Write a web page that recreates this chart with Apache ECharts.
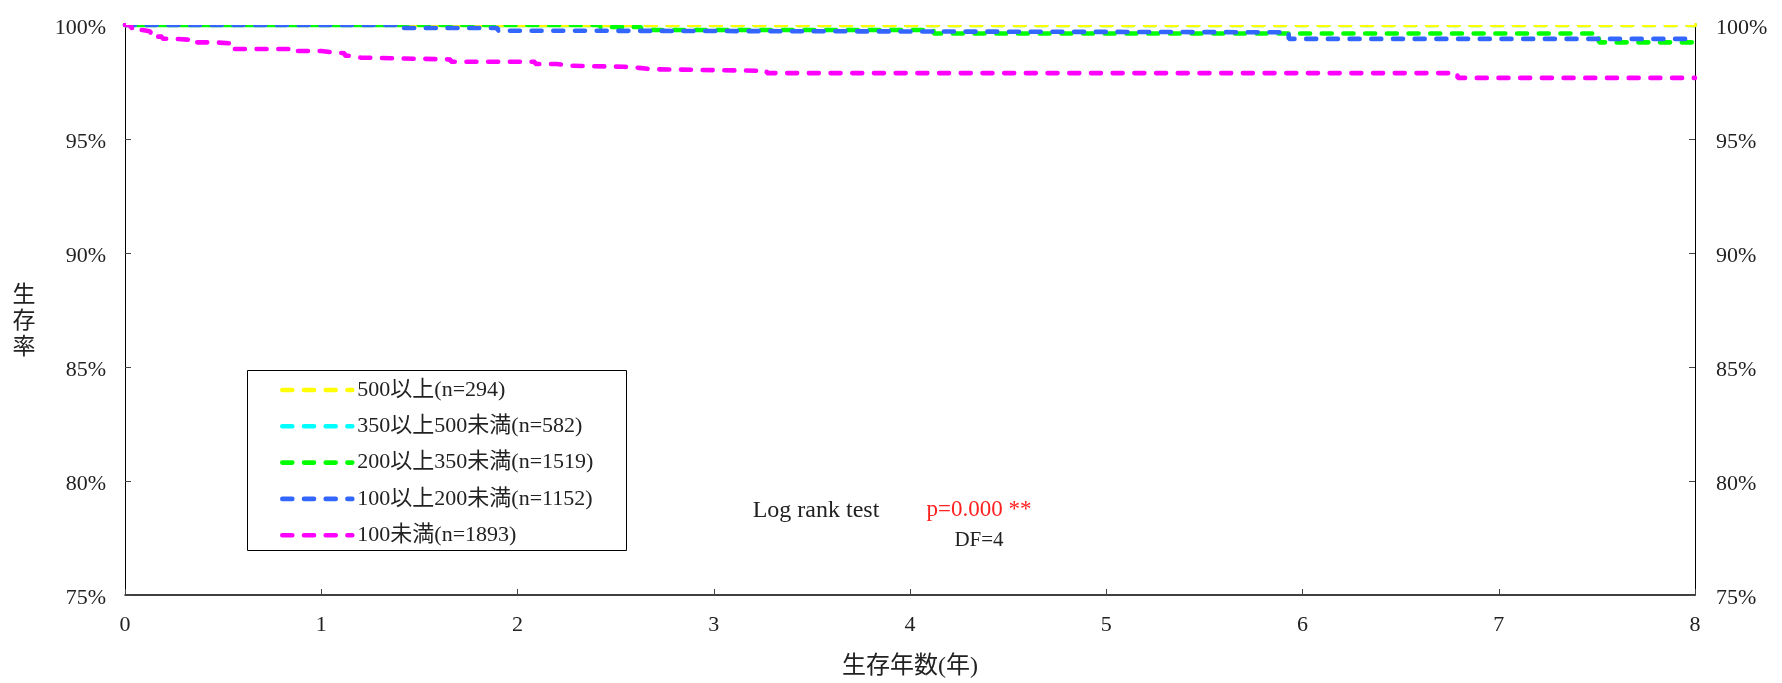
<!DOCTYPE html>
<html>
<head>
<meta charset="utf-8">
<script src="https://cdn.jsdelivr.net/npm/echarts@6/dist/echarts.min.js"></script>
<style>
html,body{margin:0;padding:0;background:#fff;}
#chart{width:1782px;height:683px;}
</style>
</head>
<body>
<div id="chart"></div>
<script>
// ---- data ----
const seriesNames = ['500以上(n=294)', '350以上500未満(n=582)', '200以上350未満(n=1519)', '100以上200未満(n=1152)', '100未満(n=1893)'];
const seriesColors = ['#ffff00', '#00ffff', '#00ff00', '#3366ff', '#ff00ff'];
const xTicks = [0, 1, 2, 3, 4, 5, 6, 7, 8];
const yTicks = [75, 80, 85, 90, 95, 100];
const yAxisTitle = '生存率';
const xAxisTitle = '生存年数(年)';
// [years, survival %]
const over500 = [[0, 100], [8, 100]];
const from350to500 = [[0, 100], [8, 100]];
const from200to350 = [[0, 100], [2.42, 99.91], [2.63, 99.78], [4.12, 99.63], [7.51, 99.24], [8, 99.24]];
const from100to200 = [[0, 100], [1.38, 99.87], [1.9, 99.75], [2.22, 99.68], [5.93, 99.39], [8, 99.39]];
const under100 = [[0, 100], [0.03, 99.87], [0.06, 99.78], [0.09, 99.71], [0.13, 99.6], [0.16, 99.49], [0.19, 99.4],
  [0.24, 99.34], [0.36, 99.24], [0.45, 99.2], [0.53, 99.05], [0.56, 98.95], [0.84, 98.86], [1.0, 98.8], [1.06, 98.76],
  [1.12, 98.65], [1.15, 98.57], [1.2, 98.49], [1.66, 98.39], [2.09, 98.29], [2.2, 98.21], [2.28, 98.17], [2.54, 98.12],
  [2.62, 98.06], [2.68, 97.99], [3.27, 97.89], [6.79, 97.68], [8, 97.68]];
const seriesData = [over500, from350to500, from200to350, from100to200, under100];
// draw order (later = on top)
const drawOrder = [1, 0, 2, 3, 4];
const dashOffsets = [0, 0, 10, 0, 0];

const FONT = "'Liberation Serif', 'Noto Sans CJK JP', serif";
const TXT = '#222';

const chart = echarts.init(document.getElementById('chart'), null, {renderer: 'canvas'});

const series = drawOrder.map(i => ({
  name: seriesNames[i],
  type: 'line',
  step: 'end',
  data: seriesData[i],
  symbol: 'none',
  color: seriesColors[i],
  lineStyle: {color: seriesColors[i], width: 4.6, type: [10, 11.7], cap: 'round', dashOffset: dashOffsets[i]},
  z: 2
}));

const yAxisCommon = {
  type: 'value', min: yTicks[0], max: yTicks[yTicks.length - 1], interval: 5,
  axisLine: {show: true, lineStyle: {color: '#000', width: 1}},
  axisTick: {show: true, inside: true, length: 6, lineStyle: {color: '#444'}},
  splitLine: {show: false},
  axisLabel: {formatter: '{value}%', fontFamily: FONT, fontSize: 22, color: TXT, margin: 19, verticalAlign: 'top', lineHeight: 7}
};

chart.setOption({
  animation: false,
  backgroundColor: '#fff',
  grid: {left: 125, right: 87, top: 25, bottom: 88, containLabel: false, outerBoundsMode: 'none'},
  xAxis: {
    type: 'value', min: xTicks[0], max: xTicks[xTicks.length - 1], interval: 1,
    name: xAxisTitle, nameLocation: 'middle', nameGap: 60,
    nameTextStyle: {fontFamily: FONT, fontSize: 24, color: TXT},
    axisLine: {show: true, lineStyle: {color: '#000', width: 1.5}},
    axisTick: {show: true, inside: true, length: 6, lineStyle: {color: '#444'}},
    splitLine: {show: false},
    axisLabel: {fontFamily: FONT, fontSize: 22, color: TXT, margin: 19}
  },
  yAxis: [
    Object.assign({}, yAxisCommon, {position: 'left'}),
    Object.assign({}, yAxisCommon, {position: 'right', axisLabel: Object.assign({}, yAxisCommon.axisLabel, {margin: 21})})
  ],
  legend: {
    orient: 'vertical', left: 280, top: 379, padding: 0,
    itemWidth: 70, itemHeight: 14, itemGap: 14.3,
    selectedMode: false,
    data: seriesNames,
    lineStyle: {width: 4.6, dashOffset: 0},
    itemStyle: {opacity: 0},
    textStyle: {fontFamily: FONT, fontSize: 22, color: TXT, lineHeight: 22}
  },
  graphic: [
    // emulate the reference's clipping of lines at the plot's top edge
    {type: 'rect', shape: {x: 126, y: 17, width: 1568.5, height: 8}, style: {fill: '#fff'}, z: 50, silent: true},
    // y-axis title, written vertically
    {type: 'text', x: 24, y: 322, style: {text: yAxisTitle.split('').join('\n'), font: '23px ' + FONT, lineHeight: 26, fill: TXT, textAlign: 'center', textVerticalAlign: 'middle'}},
    {type: 'rect', shape: {x: 247.5, y: 370.5, width: 379, height: 180}, style: {fill: 'none', stroke: '#000', lineWidth: 1}, z: 1},
    {type: 'text', x: 816, y: 511, style: {text: 'Log rank test', font: '24px ' + FONT, fill: TXT, textAlign: 'center', textVerticalAlign: 'middle'}},
    {type: 'text', x: 979, y: 510, style: {text: 'p=0.000 **', font: '23px ' + FONT, fill: '#ff2020', textAlign: 'center', textVerticalAlign: 'middle'}},
    {type: 'text', x: 979, y: 540, style: {text: 'DF=4', font: '21px ' + FONT, fill: TXT, textAlign: 'center', textVerticalAlign: 'middle'}}
  ],
  series: series
});
</script>
</body>
</html>
